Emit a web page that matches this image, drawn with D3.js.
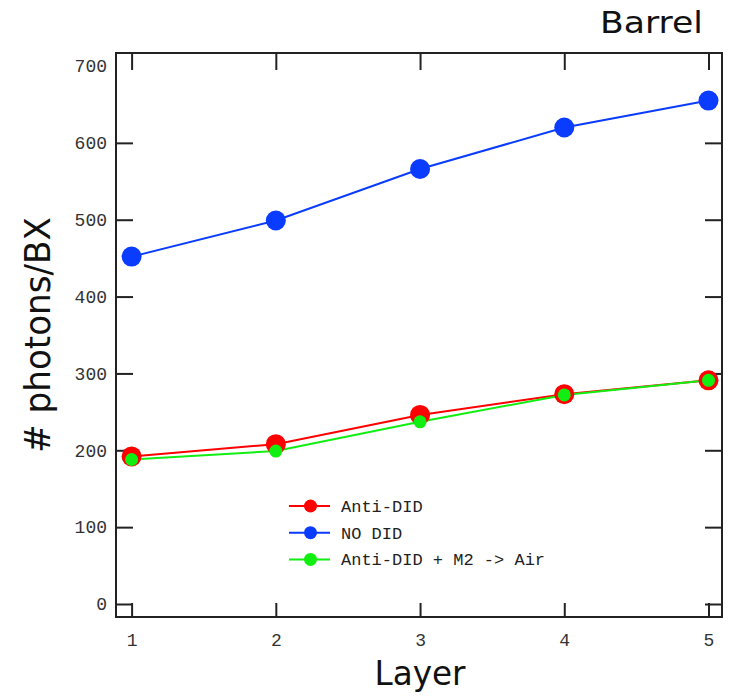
<!DOCTYPE html>
<html lang="en">
<head>
	<meta charset="utf-8"/>
	<title>Barrel photons per BX</title>
	<script src="https://cdn.jsdelivr.net/npm/d3@7"></script>
	<style>
		body { margin: 0; background: #fff; }
		.axis .domain { display: none; }
		.axis text {
			font-family: "Liberation Mono", "DejaVu Sans Mono", monospace;
			font-size: 18px;
			fill: #333;
		}
		.axis line { stroke: #222; stroke-width: 2px; }
		.title { font-family: "DejaVu Sans", sans-serif; fill: #111; }
		.legend text {
			font-family: "Liberation Mono", "DejaVu Sans Mono", monospace;
			font-size: 17px;
			fill: #222;
		}
	</style>
</head>
<body>
<div id="chart"></div>

<script>
	// data
	var layers = [1, 2, 3, 4, 5];
	var antiDid = [192, 208, 246, 273, 291];
	var noDid = [452, 499, 566, 620, 655];
	var antiDidAir = [188, 199, 237, 272, 291];
	var yTicks = [0, 100, 200, 300, 400, 500, 600, 700];
	var seriesNames = ["Anti-DID", "NO DID", "Anti-DID + M2 -> Air"];
	var seriesColors = ["#ff0000", "#0a3cff", "#11ee11"];

	var width = 733,
		height = 698;

	var svg = d3.select("#chart").append("svg")
		.attr("width", width)
		.attr("height", height);

	// plot frame
	var frame = {left: 116, right: 722, top: 53, bottom: 617};

	// x: layer 1 at 131.6, layer 5 at 708.5
	var x = d3.scaleLinear()
		.domain([1, 5])
		.range([131.6, 708.5]);

	// y: 0 at 604, 700 at 66
	var y = d3.scaleLinear()
		.domain([0, 700])
		.range([604, 66]);

	var tickLen = 17;

	// left axis (inward ticks)
	var gy = svg.append("g")
		.attr("class", "axis")
		.attr("transform", "translate(" + frame.left + ",0)")
		.call(d3.axisLeft(y).tickValues(yTicks).tickSize(-tickLen).tickPadding(9).tickFormat(d3.format("d")));
	gy.selectAll(".tick").filter(function(d) { return d === 700; }).select("line").remove();

	// right axis ticks
	svg.append("g")
		.attr("class", "axis")
		.attr("transform", "translate(" + frame.right + ",0)")
		.call(d3.axisRight(y).tickValues(yTicks.slice(0, -1)).tickSize(-tickLen).tickFormat(""));

	// bottom axis
	svg.append("g")
		.attr("class", "axis")
		.attr("transform", "translate(0," + frame.bottom + ")")
		.call(d3.axisBottom(x).tickValues(layers).tickSize(-14).tickPadding(16).tickFormat(d3.format("d")));

	// top axis ticks
	svg.append("g")
		.attr("class", "axis")
		.attr("transform", "translate(0," + frame.top + ")")
		.call(d3.axisTop(x).tickValues(layers).tickSize(-tickLen).tickFormat(""));

	// frame
	svg.append("rect")
		.attr("x", frame.left)
		.attr("y", frame.top)
		.attr("width", frame.right - frame.left)
		.attr("height", frame.bottom - frame.top)
		.attr("fill", "none")
		.attr("stroke", "#222")
		.attr("stroke-width", 2);

	var line = d3.line()
		.x(function(d, i) { return x(layers[i]); })
		.y(function(d) { return y(d); });

	// lines: red, blue, green on top
	[antiDid, noDid, antiDidAir].forEach(function(s, k) {
		svg.append("path")
			.datum(s)
			.attr("d", line)
			.attr("fill", "none")
			.attr("stroke", seriesColors[k])
			.attr("stroke-width", 2);
	});

	// markers
	var radii = [10, 10, 6.5];
	[antiDid, noDid, antiDidAir].forEach(function(s, k) {
		svg.append("g")
			.selectAll("circle")
			.data(s)
			.enter().append("circle")
			.attr("cx", function(d, i) { return x(layers[i]); })
			.attr("cy", function(d) { return y(d); })
			.attr("r", radii[k])
			.attr("fill", seriesColors[k]);
	});

	// legend
	var legend = svg.append("g")
		.attr("class", "legend")
		.selectAll("g")
		.data(seriesNames)
		.enter().append("g")
		.attr("transform", function(d, i) { return "translate(289," + (506 + i * 26.7) + ")"; });

	legend.append("line")
		.attr("x1", 0)
		.attr("x2", 41)
		.attr("stroke", function(d, i) { return seriesColors[i]; })
		.attr("stroke-width", 2);

	legend.append("circle")
		.attr("cx", 21.5)
		.attr("r", 6.5)
		.attr("fill", function(d, i) { return seriesColors[i]; });

	legend.append("text")
		.attr("x", 52)
		.attr("y", 6)
		.text(function(d) { return d; });

	// titles
	svg.append("text")
		.attr("class", "title")
		.attr("x", 600)
		.attr("y", 33)
		.attr("font-size", 30)
		.attr("textLength", 103)
		.attr("lengthAdjust", "spacingAndGlyphs")
		.text("Barrel");

	svg.append("text")
		.attr("class", "title")
		.attr("x", 420)
		.attr("y", 685)
		.attr("text-anchor", "middle")
		.attr("font-size", 34)
		.attr("textLength", 91)
		.attr("lengthAdjust", "spacingAndGlyphs")
		.text("Layer");

	svg.append("text")
		.attr("class", "title")
		.attr("transform", "translate(50,335) rotate(-90)")
		.attr("text-anchor", "middle")
		.attr("font-size", 36)
		.attr("textLength", 236)
		.attr("lengthAdjust", "spacingAndGlyphs")
		.text("# photons/BX");
</script>
</body>
</html>
